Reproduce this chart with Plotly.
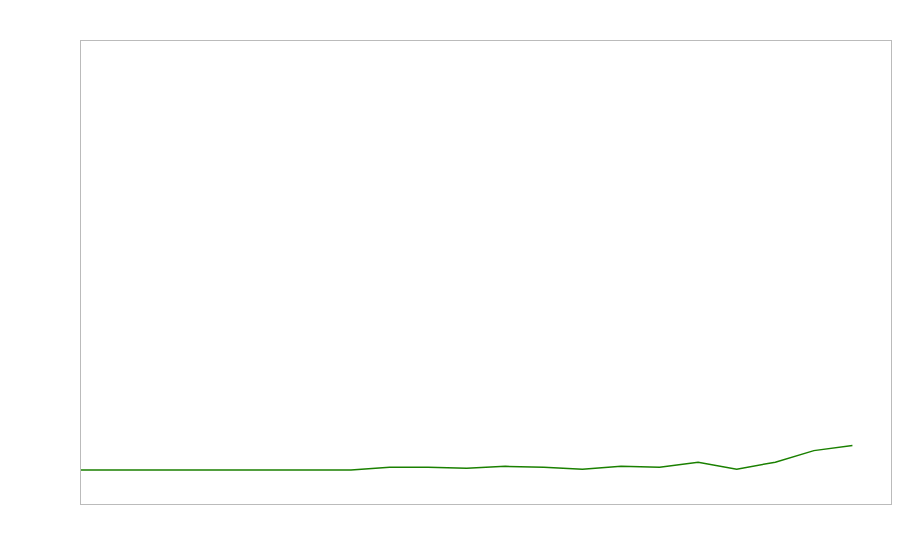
import plotly.graph_objects as go

# 21 evenly spaced periods
periods = list(range(21))
values = [0, 0, 0, 0, 0, 0, 0, 0, 0.6, 0.6, 0.4, 0.8, 0.6, 0.2, 0.8, 0.6,
          1.7, 0.2, 1.7, 4.2, 5.3]

fig = go.Figure()
fig.add_trace(go.Scatter(x=periods, y=values, mode="lines",
                         line=dict(color="#1a8000", width=1.5),
                         hoverinfo="skip", showlegend=False))

axis_style = dict(showline=True, mirror=True, linecolor="#bbbbbb", linewidth=1,
                  showgrid=False, zeroline=False, showticklabels=False,
                  ticks="")
fig.update_xaxes(range=[0, 21], **axis_style)
fig.update_yaxes(range=[-7.33, 92.67], **axis_style)

# sized to fit inside the page body (8px margins) without scrollbars
fig.update_layout(width=884, height=544,
                  margin=dict(l=73, r=1, t=33, b=48),
                  paper_bgcolor="white", plot_bgcolor="white")

fig.write_html("out.html")
